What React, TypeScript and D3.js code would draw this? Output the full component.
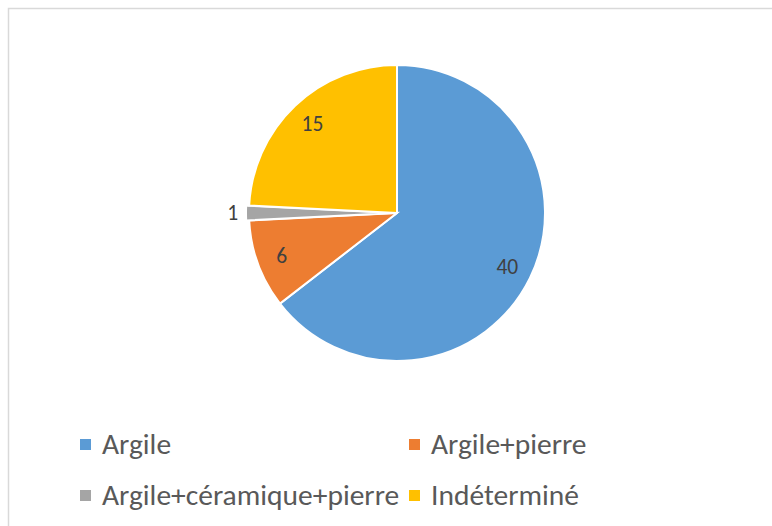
import React from "react";
import * as d3 from "d3";

const categories = ["Argile", "Argile+pierre", "Argile+céramique+pierre", "Indéterminé"];
const values = [40, 6, 1, 15];
const colors = ["#5B9BD5", "#ED7D31", "#A5A5A5", "#FFC000"];

const W = 772;
const H = 526;
const cx = 397;
const cy = 213;
const R = 148;
const FONT = "Calibri, Carlito, Lato, 'Open Sans', sans-serif";

export default function App() {
  const pie = d3.pie<number>().sort(null).value((d) => d);
  const arcs = pie(values);
  const arc = d3.arc<d3.PieArcDatum<number>>().innerRadius(0).outerRadius(R);
  const total = d3.sum(values);

  const legendRows = [
    { x: 80, y: 439 },
    { x: 409, y: 439 },
    { x: 80, y: 490 },
    { x: 409, y: 490 },
  ];

  return (
    <svg
      width={W}
      height={H}
      style={{ position: "absolute", left: 0, top: 0, background: "#fff" }}
      fontFamily={FONT}
    >
      <rect x={8.5} y={8.5} width={W} height={H} fill="#fff" stroke="#d9d9d9" strokeWidth={1.5} />
      <g transform={`translate(${cx},${cy})`}>
        {arcs.map((a, i) => {
          const mid = (a.startAngle + a.endAngle) / 2;
          const small = values[i] / total < 0.03;
          const off = small ? 3 : 0;
          const dx = Math.sin(mid) * off;
          const dy = -Math.cos(mid) * off;
          return (
            <path
              key={i}
              d={arc(a) || ""}
              transform={`translate(${dx},${dy})`}
              fill={colors[i]}
              stroke="#fff"
              strokeWidth={2}
            />
          );
        })}
        {arcs.map((a, i) => {
          const mid = (a.startAngle + a.endAngle) / 2;
          const small = values[i] / total < 0.03;
          const r = small ? R * 1.11 : R * 0.83;
          const x = Math.sin(mid) * r;
          const y = -Math.cos(mid) * r;
          return (
            <text
              key={i}
              x={x}
              y={y}
              textAnchor="middle"
              dominantBaseline="central"
              fontSize={21.5}
              fill="#404040"
            >
              {values[i]}
            </text>
          );
        })}
      </g>
      {categories.map((c, i) => (
        <g key={c}>
          <rect x={legendRows[i].x} y={legendRows[i].y} width={11} height={11} fill={colors[i]} />
          <text
            x={legendRows[i].x + 22}
            y={legendRows[i].y + 15}
            fontSize={29.5}
            fill="#595959"
          >
            {c}
          </text>
        </g>
      ))}
    </svg>
  );
}
